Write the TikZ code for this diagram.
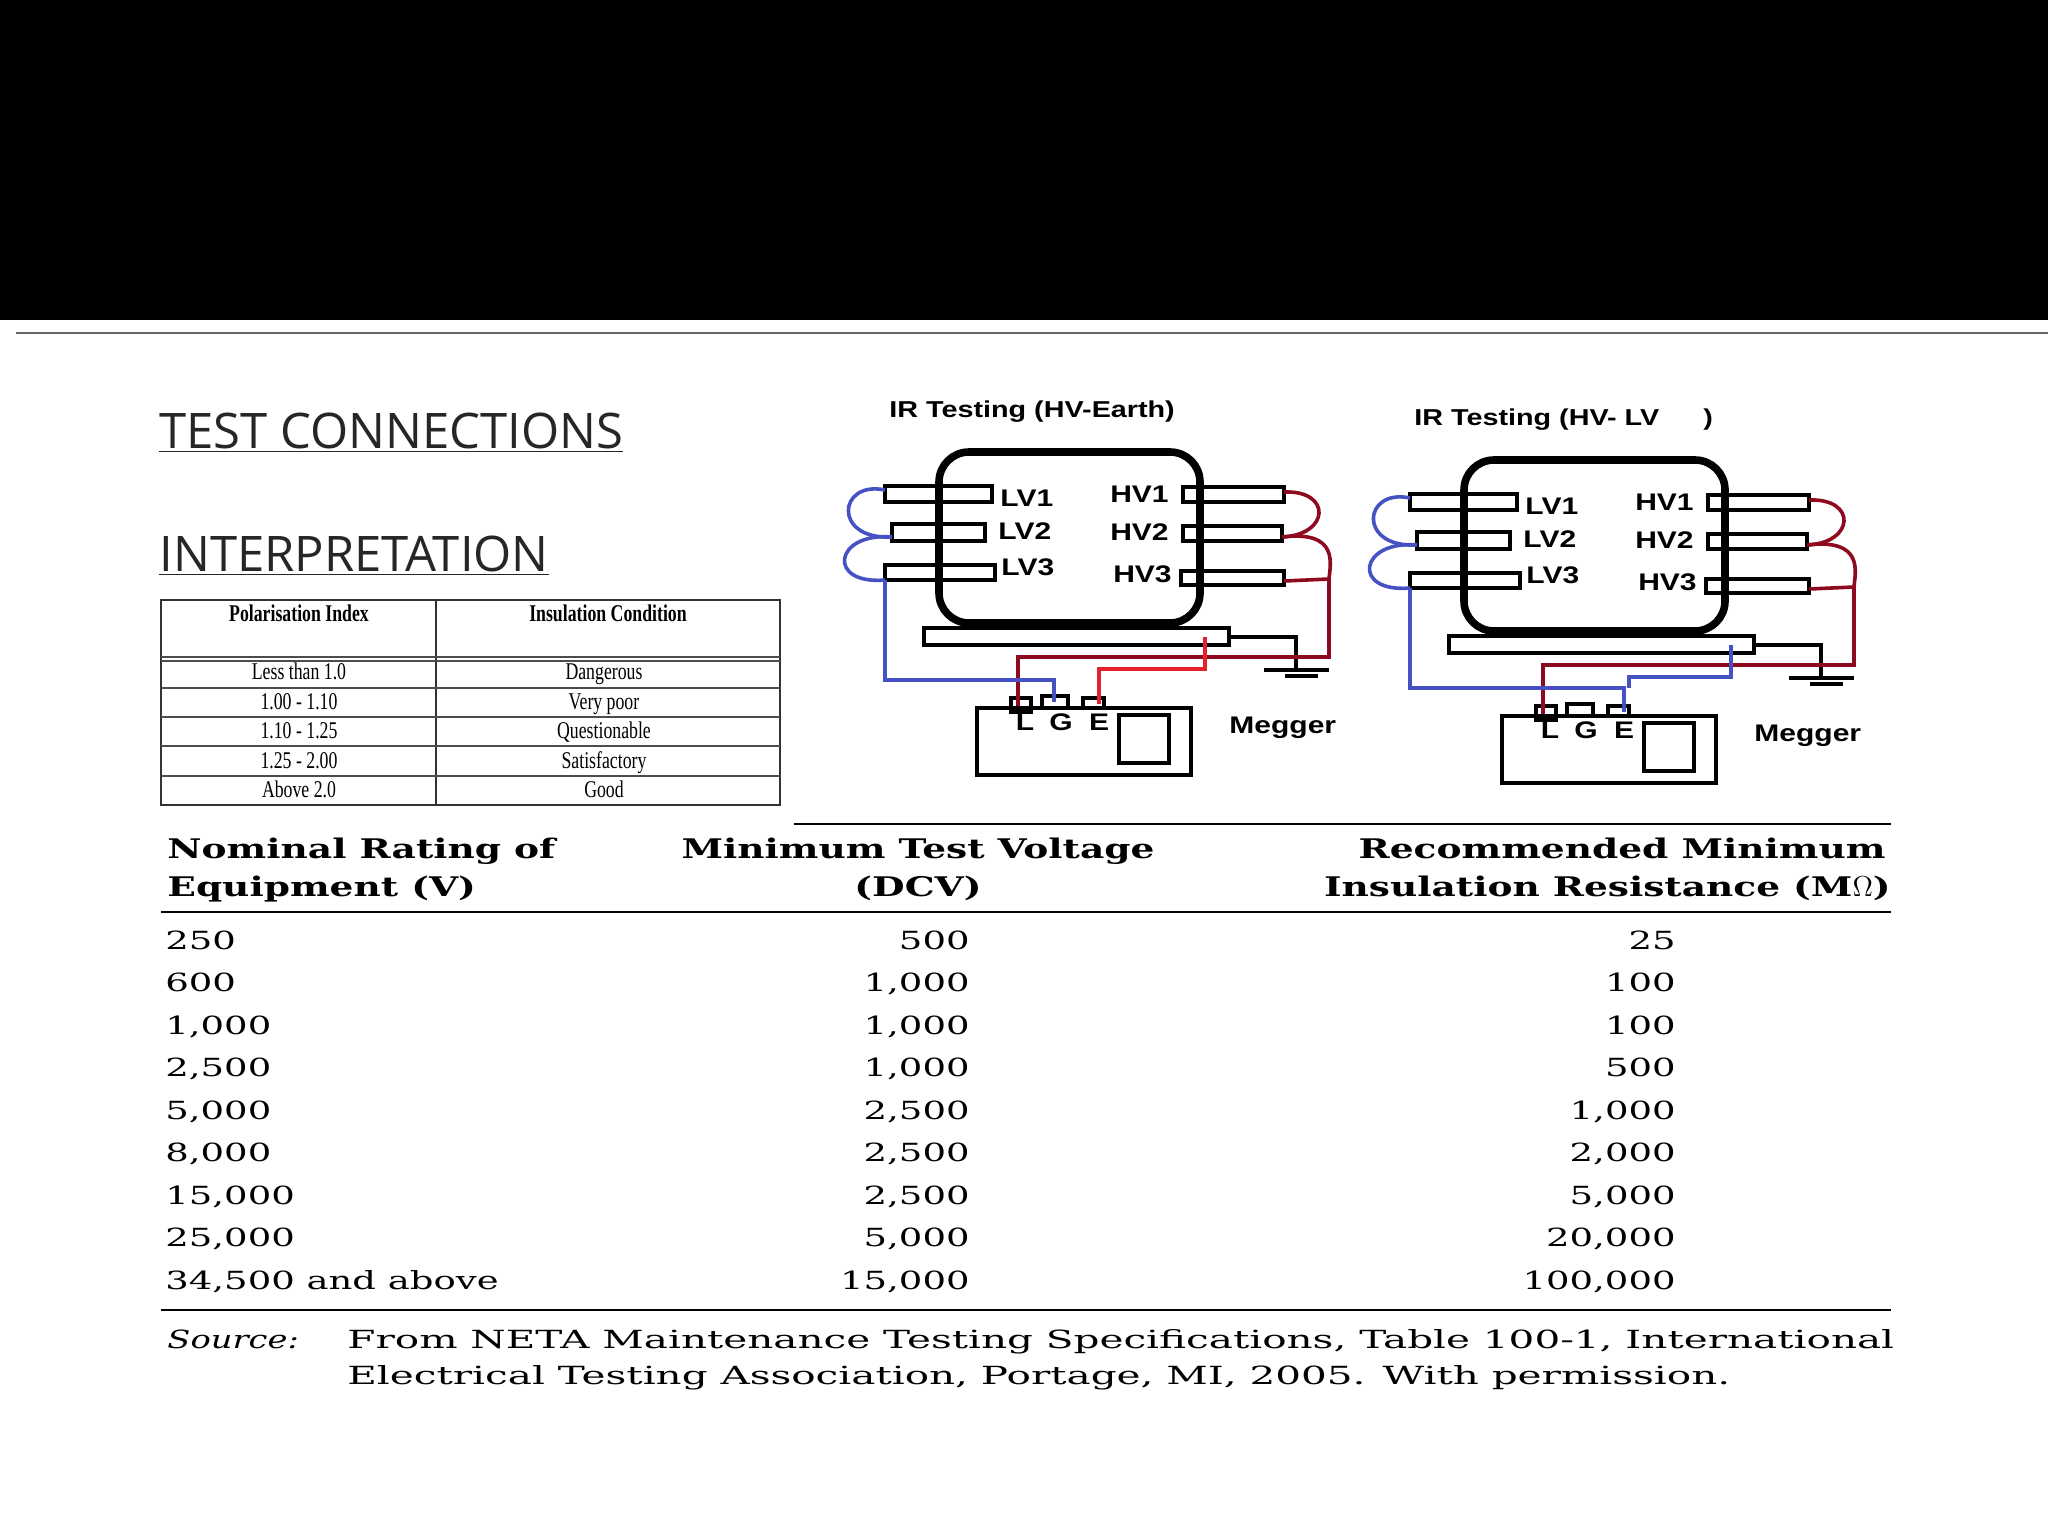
\documentclass[tikz,border=0pt]{standalone}
\usepackage{fontspec}
\setmainfont{Open Sans}
\newfontfamily\arialb[FakeStretch=1.25]{Liberation Sans Bold}
\newfontfamily\condser[FakeStretch=0.74]{Liberation Serif}
\newfontfamily\condserb[FakeStretch=0.74]{Liberation Serif Bold}
\newfontfamily\tabhead[FakeStretch=1.39]{DejaVu Serif Bold}
\newfontfamily\tabdata[FakeStretch=1.48]{DejaVu Serif}
\newfontfamily\tabsrc[FakeStretch=1.62]{DejaVu Serif}
\newfontfamily\tabital[FakeStretch=1.35]{DejaVu Serif Italic}
\definecolor{wblue}{HTML}{4652C4}
\definecolor{dred}{HTML}{8E0A1E}
\definecolor{bred}{HTML}{E5222C}
\tikzset{
  bush/.style={draw,line width=2pt},
  tank/.style={draw,line width=3.8pt,rounded corners=15pt},
  wire/.style={line width=1.8pt},
  lbl/.style={font=\arialb\fontsize{12}{13}\selectfont,inner sep=0pt},
  ttl/.style={font=\arialb\fontsize{11.5}{12}\selectfont,inner sep=0pt,anchor=base west},
  hd/.style={font=\tabhead\fontsize{13.5}{15}\selectfont,inner sep=0pt},
  dt/.style={font=\tabdata\fontsize{12.5}{14}\selectfont,inner sep=0pt},
  srcs/.style={font=\tabsrc\fontsize{12.5}{14}\selectfont,inner sep=0pt,anchor=base west},
  st/.style={font=\condser\fontsize{12}{13}\selectfont,inner sep=0pt},
  sth/.style={font=\condserb\fontsize{12}{13}\selectfont,inner sep=0pt},
  big/.style={font=\fontsize{24.5}{28}\selectfont,text=black!85,inner sep=0pt,anchor=base west}
}
\newcommand{\schemebody}{%
  \draw[tank] (939,452) rectangle (1200,623);
  \draw[bush] (885,486) rectangle (992,502);
  \draw[bush] (892,524) rectangle (985,541);
  \draw[bush] (885,565) rectangle (995,580);
  \draw[bush] (1183,487) rectangle (1284,502);
  \draw[bush] (1183,526) rectangle (1282,541);
  \draw[bush] (1181,571) rectangle (1284,585);
  \node[lbl,anchor=base west] (lv1) at (1000,506) {LV1};
  \node[lbl,anchor=base west] (lv2) at (998,539) {LV2};
  \node[lbl,anchor=base west] (lv3) at (1001,575) {LV3};
  \node[lbl,anchor=base east] (hv1) at (1169,502) {HV1};
  \node[lbl,anchor=base east] (hv2) at (1169,540) {HV2};
  \node[lbl,anchor=base east] (hv3) at (1172,582) {HV3};
  \draw[bush] (924,628) rectangle (1229,645);
  \draw[line width=1.6pt] (1229,637) -- (1296,637) -- (1296,670);
  \draw[line width=1.8pt] (1264,670) -- (1329,670);
  \draw[line width=1.8pt] (1285,676) -- (1318,676);
  \draw[line width=2pt] (977,708) rectangle (1191,775);
  \draw[line width=2pt] (1119,715) rectangle (1169,763);
  \draw[line width=1.8pt] (1011,698) rectangle (1031,712);
  \draw[line width=1.8pt] (1042,696) rectangle (1068,708);
  \draw[line width=1.8pt] (1083,698) rectangle (1104,708);
  \node[lbl,anchor=base] (tl) at (1025,730) {L};
  \node[lbl,anchor=base] (tg) at (1061,730) {G};
  \node[lbl,anchor=base] (te) at (1099,730) {E};
  \node[lbl,anchor=base west] (meg) at (1229,733) {Megger};
  % blue loops
  \draw[wire,wblue] (885,490) .. controls (838,480) and (832,540) .. (892,537);
  \draw[wire,wblue] (892,537) .. controls (834,532) and (826,585) .. (885,580);
  % red loops
  \draw[wire,dred] (1284,492) .. controls (1332,490) and (1330,535) .. (1282,537);
  \draw[wire,dred] (1282,537) .. controls (1340,530) and (1330,565) .. (1329,579) -- (1284,581);
  \draw[wire,dred] (1329,579) -- (1329,657) -- (1018,657) -- (1018,706);
}
\begin{document}
\begin{tikzpicture}[x=0.5pt,y=-0.5pt]
\useasboundingbox (0,0) rectangle (2048,1536);
\fill[white] (0,0) rectangle (2048,1536);
\fill[black] (0,0) rectangle (2048,320);
\draw[black!60,line width=0.8pt] (16,333) -- (2048,333);
\node[big] (tc) at (159,448) {\underline{TEST CONNECTIONS}};
\node[big] (ip) at (159,571) {\underline{INTERPRETATION}};
% small table
\draw[line width=1pt,black!80] (161,600) rectangle (780,805);
\draw[line width=1pt,black!80] (436,600) -- (436,805);
\foreach \yy in {657,661,688,717,746,776}{\draw[line width=1pt,black!70] (161,\yy) -- (780,\yy);}
\node[sth,anchor=base] (ph1) at (299,621) {Polarisation Index};
\node[sth,anchor=base] (ph2) at (608,621) {Insulation Condition};
\foreach \a/\b [count=\i] in {Less than 1.0/Dangerous,1.00 - 1.10/Very poor,1.10 - 1.25/Questionable,1.25 - 2.00/Satisfactory,Above 2.0/Good}{
  \node[st,anchor=base] (pa\i) at (299,{650+29.5*\i}) {\a};
  \node[st,anchor=base] (pb\i) at (604,{650+29.5*\i}) {\b};
}
% schematic 1
\node[ttl] (t1) at (889,417) {IR Testing (HV-Earth)};
\schemebody
\draw[wire,wblue] (885,580) -- (885,680) -- (1054,680) -- (1054,702);
\draw[wire,bred] (1205,637) -- (1205,669) -- (1099,669) -- (1099,704);
% schematic 2
\begin{scope}[shift={(525,8)}]
\node[ttl] (t2) at (889,417) {IR Testing (HV- LV\hspace{22pt})};
\schemebody
\draw[wire,wblue] (885,580) -- (885,680) -- (1099,680) -- (1099,704);
\draw[wire,wblue] (1206,637) -- (1206,669) -- (1104,669) -- (1104,680);
\end{scope}
% big table
\draw[line width=1pt] (794,824) -- (1891,824);
\draw[line width=1pt] (161,912) -- (1891,912);
\draw[line width=1pt] (161,1310) -- (1891,1310);
\node[hd,anchor=base west] (h1a) at (167,858) {Nominal Rating of};
\node[hd,anchor=base west] (h1b) at (167,896) {Equipment (V)};
\node[hd,anchor=base] (h2a) at (918,858) {Minimum Test Voltage};
\node[hd,anchor=base] (h2b) at (918,896) {(DCV)};
\node[hd,anchor=base east] (h3a) at (1886,858) {Recommended Minimum};
\node[hd,anchor=base east] (h3b) at (1891,896) {Insulation Resistance (M$\Omega$)};
\foreach \a/\b/\c [count=\i] in {250/500/25,600/{1,000}/100,{1,000}/{1,000}/100,{2,500}/{1,000}/500,{5,000}/{2,500}/{1,000},{8,000}/{2,500}/{2,000},{15,000}/{2,500}/{5,000},{25,000}/{5,000}/{20,000},34{,}500 and above/{15,000}/{100,000}}{
  \node[dt,anchor=base west] (ra\i) at (165,{906.5+42.5*\i}) {\a};
  \node[dt,anchor=base east] (rb\i) at (970,{906.5+42.5*\i}) {\b};
  \node[dt,anchor=base east] (rc\i) at (1676,{906.5+42.5*\i}) {\c};
}
\node[font=\tabital\fontsize{12.5}{14}\selectfont,inner sep=0pt,anchor=base west] (src) at (167,1348) {Source:};
\node[srcs] (s1) at (347,1348) {From NETA Maintenance Testing Specifications, Table 100-1, International};
\node[srcs] (s2) at (347,1384) {Electrical Testing Association, Portage, MI, 2005. With permission.};
\end{tikzpicture}
\end{document}
